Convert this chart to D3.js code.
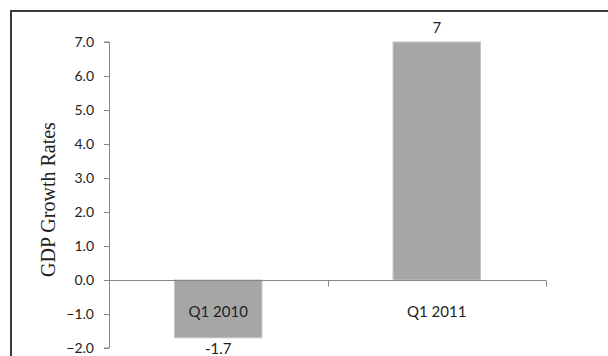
<!DOCTYPE html>
<html>
<head>
<meta charset="utf-8">
<script src="https://cdn.jsdelivr.net/npm/d3@7"></script>
<style>
  html, body { margin: 0; padding: 0; background: #fff; }
  svg { display: block; }
</style>
</head>
<body>
<svg id="chart" width="608" height="356"></svg>
<script>
const categories = ["Q1 2010", "Q1 2011"];
const values = [-1.7, 7];
const valueLabels = ["-1.7", "7"];
const yTicks = [-2, -1, 0, 1, 2, 3, 4, 5, 6, 7];
const yTitle = "GDP Growth Rates";

const svg = d3.select("#chart");
const W = 608, H = 356;
const plot = { left: 109, right: 546, top: 42, bottom: 348 };

// frame (only top and left edges visible)
svg.append("path")
  .attr("d", `M11,${H} L11,11 L${W},11`)
  .attr("fill", "none").attr("stroke", "#3a3a3a").attr("stroke-width", 2);

const y = d3.scaleLinear().domain([-2, 7]).range([plot.bottom, plot.top]);
const x = d3.scaleBand().domain(categories).range([plot.left, plot.right]).padding(0);

// y axis
const yAxis = svg.append("g").attr("transform", `translate(${plot.left},0)`)
  .call(d3.axisLeft(y).tickValues(yTicks).tickFormat(d3.format(".1f")).tickSize(5).tickPadding(10));
yAxis.select(".domain").attr("stroke", "#868686").attr("d", `M-5,${y(7)}H0.5V${y(-2)}H-5`);
yAxis.selectAll(".tick line").attr("stroke", "#868686");
yAxis.selectAll(".tick text")
  .attr("font-family", "Lato, 'Open Sans', sans-serif").attr("font-size", 14).attr("fill", "#222");

// bars
const barW = x.bandwidth() * 0.4;
svg.append("g").selectAll("rect").data(values).join("rect")
  .attr("x", (d, i) => x(categories[i]) + (x.bandwidth() - barW) / 2)
  .attr("width", barW)
  .attr("y", d => y(Math.max(0, d)))
  .attr("height", d => Math.abs(y(d) - y(0)))
  .attr("fill", "#a6a6a6").attr("stroke", "#c4c4c4").attr("stroke-width", 1);

// category axis at zero
const y0 = Math.round(y(0)) + 0.5;
const edges = [plot.left, ...categories.map(c => x(c) + x.bandwidth())];
svg.append("line").attr("x1", plot.left).attr("x2", plot.right)
  .attr("y1", y0).attr("y2", y0).attr("stroke", "#868686");
svg.append("g").selectAll("line").data(edges.slice(1)).join("line")
  .attr("x1", d => Math.round(d) + 0.5).attr("x2", d => Math.round(d) + 0.5)
  .attr("y1", y0).attr("y2", y0 + 6).attr("stroke", "#868686");

// category labels
svg.append("g").selectAll("text").data(categories).join("text")
  .attr("x", d => x(d) + x.bandwidth() / 2)
  .attr("y", y0 + 36)
  .attr("text-anchor", "middle")
  .attr("font-family", "Lato, 'Open Sans', sans-serif").attr("font-size", 15).attr("fill", "#222")
  .text(d => d);

// value labels
svg.append("g").selectAll("text").data(values).join("text")
  .attr("x", (d, i) => x(categories[i]) + x.bandwidth() / 2)
  .attr("y", d => d >= 0 ? y(d) - 9 : y(d) + 16)
  .attr("text-anchor", "middle")
  .attr("font-family", "Lato, 'Open Sans', sans-serif").attr("font-size", 15).attr("fill", "#222")
  .text((d, i) => valueLabels[i]);

// y title
svg.append("text")
  .attr("transform", `translate(55,199.5) rotate(-90)`)
  .attr("text-anchor", "middle")
  .attr("font-family", "'Liberation Serif', 'Times New Roman', serif").attr("font-size", 20).attr("fill", "#222")
  .text(yTitle);
</script>
</body>
</html>
